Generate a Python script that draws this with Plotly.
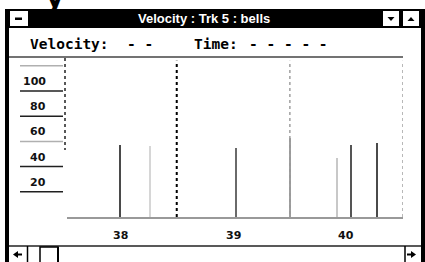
import plotly.graph_objects as go

W, H = 425, 262

# ---------------- data ----------------
title_text = "Velocity : Trk 5 : bells"
status_labels = ["Velocity:", "- -", "Time:", "- - - - -"]
beats = [38.0, 38.26, 39.02, 39.5, 39.92, 40.04, 40.27]
velocities = [57, 56, 55, 63, 47, 57, 59]
vel_ticks = [100, 80, 60, 40, 20]
ruler_lines = [120, 100, 80, 60, 40, 20]
beat_ticks = [38, 39, 40]
beat_labels = ["38", "39", "40"]
measure_lines = [38.5, 39.5, 40.5]

# ---------------- styles ----------------
bar_colors = ["#4a4a4a", "#d6d6d6", "#6a6a6a", "#9a9a9a", "#c8c8c8", "#555555", "#4a4a4a"]
ruler_colors = ["#b0b0b0", "#202020", "#202020", "#b0b0b0", "#202020", "#202020"]
measure_colors = ["#000000", "#a0a0a0", "#a0a0a0"]
measure_widths = [2, 1.5, 1.5]
status_x = [28, 125, 192, 247]
MONO = "DejaVu Sans Mono"
SANS = "DejaVu Sans"


def px(x):
    return x / W


def py(y):
    return 1 - y / H


def rect(x0, y0, x1, y1, fill, lc=None, lw=0):
    return dict(type="rect", xref="paper", yref="paper",
                x0=px(x0), x1=px(x1), y0=py(y1), y1=py(y0),
                fillcolor=fill, line=dict(width=lw, color=lc or fill), layer="above")


def seg(x0, y0, x1, y1, color, w=1, dash="solid"):
    return dict(type="line", xref="paper", yref="paper",
                x0=px(x0), x1=px(x1), y0=py(y0), y1=py(y1),
                line=dict(color=color, width=w, dash=dash), layer="above")


def tri(points, color="black"):
    path = "M " + " L ".join(f"{px(a)},{py(b)}" for a, b in points) + " Z"
    return dict(type="path", xref="paper", yref="paper", path=path,
                fillcolor=color, line=dict(width=0), layer="above")


fig = go.Figure()
fig.add_trace(go.Bar(x=beats, y=velocities, width=0.018,
                     marker=dict(color=bar_colors, line=dict(width=0)),
                     hoverinfo="skip", showlegend=False))

shapes = []
# window frame
shapes.append(rect(5, 9, 421, 28, "black"))                 # title bar
shapes.append(rect(5, 9, 9, 262, "black"))                  # left border
shapes.append(rect(421, 9, 425, 262, "black"))              # right border
# system menu box
shapes.append(rect(10, 11, 28, 26, "white"))
shapes.append(rect(15, 17.5, 22, 20, "black"))
# title buttons
shapes.append(rect(383, 11, 399, 26, "white"))
shapes.append(rect(403, 11, 419, 26, "white"))
shapes.append(tri([(387.5, 17), (394.5, 17), (391, 21)]))
shapes.append(tri([(407.5, 21), (414.5, 21), (411, 17)]))
# status separator / chart top line
shapes.append(seg(9, 57, 403, 57, "#444444", 1.5))
# left velocity ruler dotted line
shapes.append(seg(65, 58, 65, 150, "#222222", 1.5, "dot"))
# measure lines (data coordinates)
for m, c, w in zip(measure_lines, measure_colors, measure_widths):
    shapes.append(dict(type="line", xref="x", yref="y", x0=m, x1=m, y0=0, y1=124,
                       line=dict(color=c, width=w, dash="dot"), layer="above"))
# ruler lines
for v, c in zip(ruler_lines, ruler_colors):
    shapes.append(dict(type="line", xref="paper", yref="y", x0=px(20), x1=px(63), y0=v, y1=v,
                       line=dict(color=c, width=1.5), layer="above"))
# bottom scrollbar
shapes.append(seg(9, 246, 421, 246, "#222222", 1.5))
shapes.append(seg(27.5, 246, 27.5, 262, "black", 1.5))
shapes.append(tri([(13, 254.5), (18, 251), (18, 258)]))
shapes.append(rect(17, 253.5, 22, 255.5, "black"))
shapes.append(rect(40, 247, 58, 263, "white", "black", 1.5))
shapes.append(rect(57, 247, 59, 262, "black"))
shapes.append(seg(405, 246, 405, 262, "black", 1.5))
shapes.append(tri([(416, 254.5), (411, 251), (411, 258)]))
shapes.append(rect(407, 253.5, 412, 255.5, "black"))

annotations = []
# fragment of text above the window
annotations.append(dict(text="<b>y</b>", xref="paper", yref="paper", x=px(55), y=py(8),
                        xanchor="center", yanchor="bottom", showarrow=False,
                        font=dict(family=SANS, size=30, color="black"), yshift=-8))
annotations.append(dict(text=f"<b>{title_text}</b>", xref="paper", yref="paper",
                        x=px(204), y=py(18.5), xanchor="center", yanchor="middle",
                        showarrow=False, font=dict(family="Liberation Sans", size=13, color="white")))
for t, x in zip(status_labels, status_x):
    annotations.append(dict(text=f"<b>{t}</b>", xref="paper", yref="paper", x=px(x), y=py(44),
                            xanchor="left", yanchor="middle", showarrow=False,
                            font=dict(family=MONO, size=14.5, color="black")))
for v in vel_ticks:
    annotations.append(dict(text=f"<b>{v}</b>", xref="paper", yref="y", x=px(47.5), y=v,
                            xanchor="right", yanchor="bottom", showarrow=False, yshift=1,
                            font=dict(family=SANS, size=11, color="#111111")))
for b, lab in zip(beat_ticks, beat_labels):
    annotations.append(dict(text=f"<b>{lab}</b>", xref="x", yref="y", x=b, y=0,
                            xanchor="center", yanchor="top", showarrow=False, yshift=-10,
                            font=dict(family=SANS, size=11, color="#111111")))

fig.update_layout(
    width=W, height=H,
    margin=dict(l=0, r=0, t=0, b=0),
    paper_bgcolor="white", plot_bgcolor="white",
    shapes=shapes, annotations=annotations,
    bargap=0,
    xaxis=dict(domain=[px(67), px(403)], range=[37.53, 40.5], showgrid=False, zeroline=False,
               showticklabels=False, ticks="", showline=True, linecolor="#999999", linewidth=1.5,
               fixedrange=True),
    yaxis=dict(domain=[py(217), py(57)], range=[0, 127], showgrid=False, zeroline=False,
               showticklabels=False, ticks="", showline=False, fixedrange=True),
)

fig.write_html("out.html", config={"displayModeBar": False},
               post_script="document.body.style.margin='0';document.body.style.overflow='hidden';")
